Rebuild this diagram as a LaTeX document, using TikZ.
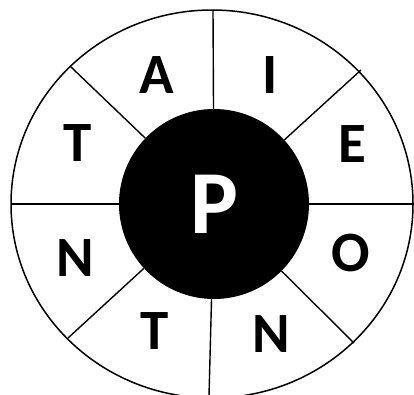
\documentclass[tikz,border=0pt]{standalone}
\usepackage{fontspec}
\setmainfont{Carlito}
\newcommand{\rad}{\fontsize{57}{57}\selectfont\bfseries}
\newcommand{\mitte}{\fontsize{90}{90}\selectfont\bfseries}
\tikzset{speiche/.style={black,line width=1.4pt},
  rand/.style={black,line width=1.5pt},
  buchstabe/.style={inner sep=0,font=\rad},
  nabe/.style={circle,fill=black,inner sep=0,minimum size=190pt,text=white,font=\mitte}}

\begin{document}
\begin{tikzpicture}[x=1pt,y=-1pt]
\useasboundingbox (0,0) rectangle (414,394);
\clip (0,0) rectangle (414,394);
\fill[white] (0,0) rectangle (414,394);
\draw[rand] (212,204) ellipse [x radius=201,y radius=194];
\node[nabe] (hub) at (214,204) {P};
% aeussere Enden der Speichen
\coordinate (oben) at (213,10);\coordinate (unten) at (209,396);
\coordinate (links) at (11,204);\coordinate (rechts) at (416,204);
\coordinate (ol) at (71,67);\coordinate (or) at (361,70);
\coordinate (ur) at (354,343);\coordinate (ul) at (68,338);
\foreach \e in {oben,or,rechts,ur,unten,ul,links,ol}
  \draw[speiche] (hub) -- (\e);
\node[buchstabe] (tA) at (157,75) {A};
\node[buchstabe] (tI) at (270,75) {I};
\node[buchstabe] (tTl) at (78,143) {T};
\node[buchstabe] (tE) at (352,144) {E};
\node[buchstabe] (tNl) at (75,258) {N};
\node[buchstabe] (tO) at (351,253) {O};
\node[buchstabe] (tTu) at (155,331) {T};
\node[buchstabe] (tNu) at (271,334) {N};
\end{tikzpicture}
\end{document}
